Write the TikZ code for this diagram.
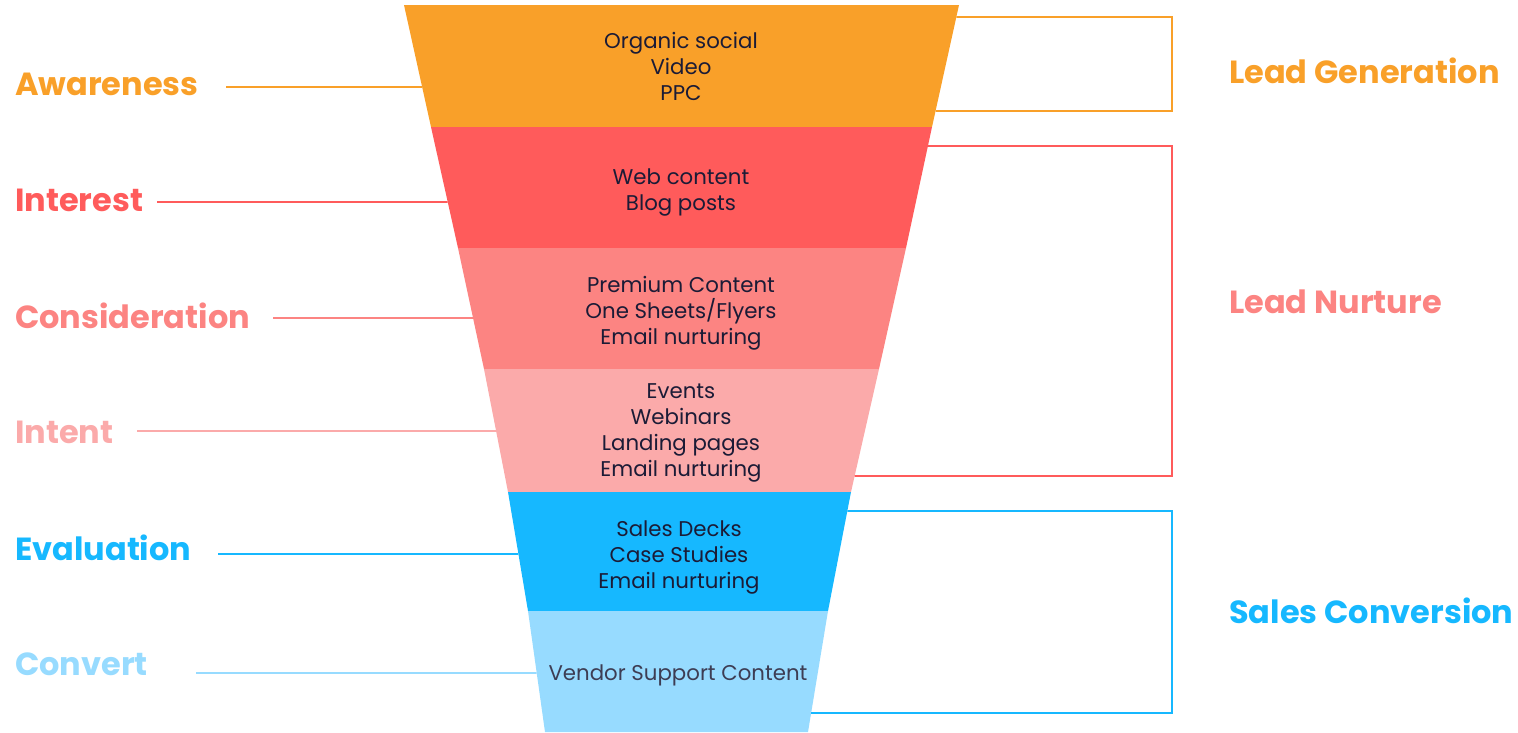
\documentclass[tikz,border=0pt]{standalone}
\usepackage{fontspec}
\setmainfont{Poppins}
\usetikzlibrary{calc}
\definecolor{cOrange}{HTML}{F9A029}
\definecolor{cRed}{HTML}{FF5B5B}
\definecolor{cSalmon}{HTML}{FC8482}
\definecolor{cPink}{HTML}{FBAAAA}
\definecolor{cBlue}{HTML}{16B8FF}
\definecolor{cSky}{HTML}{97DBFF}
\definecolor{ink}{HTML}{1B1B36}
\begin{document}
\begin{tikzpicture}[x=1pt,y=-1pt,
  stage/.style={font=\fontsize{32}{38}\selectfont\bfseries, anchor=west, inner sep=0},
  items/.style={font=\fontsize{21.3}{26}\selectfont, align=center, text=ink, inner sep=0},
  conn/.style={line width=1.6pt},
]
\useasboundingbox (0,0) rectangle (1518,732);
% funnel corners
\coordinate (L0) at (404,5);   \coordinate (R0) at (959,5);
\coordinate (L1) at (431,127); \coordinate (R1) at (932,127);
\coordinate (L2) at (458,248); \coordinate (R2) at (906,248);
\coordinate (L3) at (484,369); \coordinate (R3) at (879,369);
\coordinate (L4) at (508,492); \coordinate (R4) at (851,492);
\coordinate (L5) at (528,611); \coordinate (R5) at (828,611);
\coordinate (L6) at (545,732); \coordinate (R6) at (808,732);
\fill[cOrange] (L0) -- (R0) -- (R1) -- (L1) -- cycle;
\fill[cRed] (L1) -- (R1) -- (R2) -- (L2) -- cycle;
\fill[cSalmon] (L2) -- (R2) -- (R3) -- (L3) -- cycle;
\fill[cPink] (L3) -- (R3) -- (R4) -- (L4) -- cycle;
\fill[cBlue] (L4) -- (R4) -- (R5) -- (L5) -- cycle;
\fill[cSky] (L5) -- (R5) -- (R6) -- (L6) -- cycle;
% funnel texts
\node[items] (t1) at (681,66) {Organic social\\Video\\PPC};
\node[items] (t2) at (681,192) {Web content\\Blog posts};
\node[items] (t3) at (681,313) {Premium Content\\One Sheets/Flyers\\Email nurturing};
\node[items] (t4) at (681,433) {Events\\Webinars\\Landing pages\\Email nurturing};
\node[items] (t5) at (679,557) {Sales Decks\\Case Studies\\Email nurturing};
\node[items, text=ink!85] (t6) at (678,675) {Vendor Support Content};
% left stage labels
\node[stage, text=cOrange] (awareness) at (15,84) {Awareness};
\node[stage, text=cRed] (interest) at (15,200) {Interest};
\node[stage, text=cSalmon] (consideration) at (15,316) {Consideration};
\node[stage, text=cPink] (intent) at (15,432) {Intent};
\node[stage, text=cBlue] (evaluation) at (15,548) {Evaluation};
\node[stage, text=cSky] (convert) at (15,664) {Convert};
% connector ends
\coordinate (a0) at (226,87);  \coordinate (a1) at ($(L0)!{(87-5)/122}!(L1)$);
\coordinate (b0) at (157,202); \coordinate (b1) at ($(L1)!{(202-127)/121}!(L2)$);
\coordinate (c0) at (273,318); \coordinate (c1) at ($(L2)!{(318-248)/121}!(L3)$);
\coordinate (d0) at (137,431); \coordinate (d1) at ($(L3)!{(431-369)/123}!(L4)$);
\coordinate (e0) at (218,554); \coordinate (e1) at ($(L4)!{(554-492)/119}!(L5)$);
\coordinate (f0) at (196,673); \coordinate (f1) at ($(L5)!{(673-611)/121}!(L6)$);
\draw[conn, cOrange] (a0) -- (a1);
\draw[conn, cRed] (b0) -- (b1);
\draw[conn, cSalmon] (c0) -- (c1);
\draw[conn, cPink] (d0) -- (d1);
\draw[conn, cBlue] (e0) -- (e1);
\draw[conn, cSky] (f0) -- (f1);
% right brackets
\coordinate (g0) at ($(R0)!{(17-5)/122}!(R1)$);
\coordinate (g1) at ($(R0)!{(111-5)/122}!(R1)$);
\coordinate (n0) at ($(R1)!{(146-127)/121}!(R2)$);
\coordinate (n1) at ($(R3)!{(476-369)/123}!(R4)$);
\coordinate (s0) at ($(R4)!{(511-492)/119}!(R5)$);
\coordinate (s1) at ($(R5)!{(713-611)/121}!(R6)$);
\draw[conn, cOrange, line join=miter] (g0) -- (1172,17) -- (1172,111) -- (g1);
\draw[conn, cRed, line join=miter] (n0) -- (1172,146) -- (1172,476) -- (n1);
\draw[conn, cBlue, line join=miter] (s0) -- (1172,511) -- (1172,713) -- (s1);
\node[stage, text=cOrange] (leadgen) at (1229,71) {Lead Generation};
\node[stage, text=cSalmon] (leadnur) at (1229,302) {Lead Nurture};
\node[stage, text=cBlue] (salesconv) at (1229,611) {Sales Conversion};
\end{tikzpicture}
\end{document}
